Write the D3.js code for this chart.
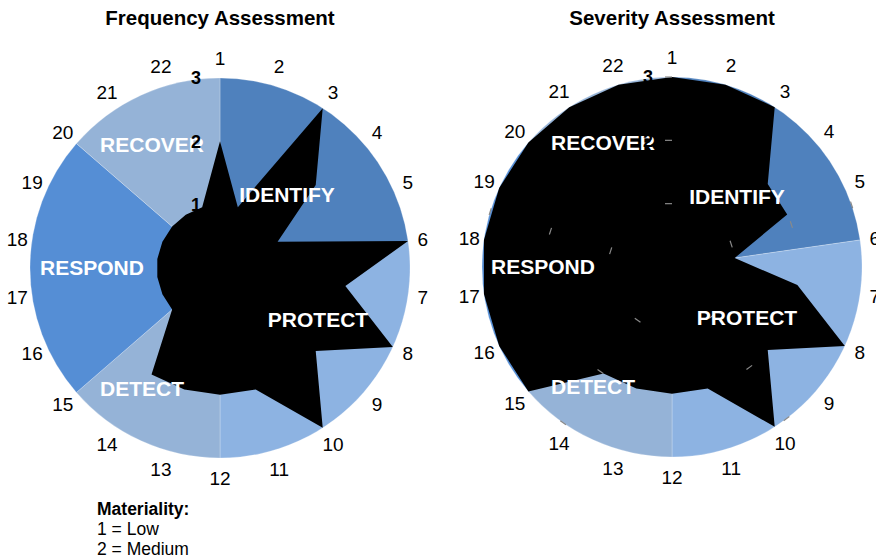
<!DOCTYPE html>
<html>
<head>
<meta charset="utf-8">
<script src="https://cdn.jsdelivr.net/npm/d3@7"></script>
<style>
  body { margin: 0; background: #fff; }
  svg { display: block; font-family: "Liberation Sans", Arial, Helvetica, sans-serif; }
</style>
</head>
<body>
<svg width="876" height="559"></svg>
<script>
// 22 controls, grouped into the five NIST functions
const axisLabels = d3.range(1, 23).map(String);
const categories = ['IDENTIFY', 'PROTECT', 'DETECT', 'RESPOND', 'RECOVER'];
const categorySpans = [5, 6, 3, 5, 3];
const categoryColors = ['#4f81bd', '#8db3e2', '#95b3d7', '#558ed5', '#95b3d7'];
const frequency = [2, 1, 3, 2, 1, 3, 2, 3, 2, 3, 2, 2, 2, 2, 1, 1, 1, 1, 1, 1, 1, 1];
const severity = [3, 3, 3, 2, 2, 1, 2, 3, 2, 3, 2, 2, 2, 2, 3, 3, 3, 3, 3, 3, 3, 3];
const levels = [1, 2, 3];
const legendTitle = 'Materiality:';
const legendLines = ['1 = Low', '2 = Medium', '3 = High'];

const svg = d3.select('svg');
const radius = 190;
const r = d3.scaleLinear().domain([0, 3]).range([0, radius]);
const angle = d3.scaleLinear().domain([0, axisLabels.length]).range([0, 2 * Math.PI]);

// where the function names sit, as [dx, dy] from the centre
const charts = [
  {title: 'Frequency Assessment', values: frequency, cx: 220, cy: 268, spokeTicks: false,
   labelOffsets: [[67, -73], [98, 52], [-78, 121], [-128, 0], [-68, -123]]},
  {title: 'Severity Assessment', values: severity, cx: 672, cy: 267, spokeTicks: true,
   labelOffsets: [[65, -70], [75, 51], [-79, 120], [-129, 0], [-69, -124]]},
];

const pie = d3.pie().sort(null).value(d => d.span);
const arc = d3.arc().innerRadius(0).outerRadius(radius);
const radar = d3.lineRadial()
  .angle((d, i) => angle(i))
  .radius(d => r(d))
  .curve(d3.curveLinearClosed);

charts.forEach(c => {
  const g = svg.append('g').attr('transform', 'translate(' + c.cx + ',' + c.cy + ')');

  g.append('text')
    .attr('x', 0).attr('y', 25 - c.cy)
    .attr('text-anchor', 'middle')
    .attr('font-size', '20.5px').attr('font-weight', 'bold')
    .text(c.title);

  const slices = pie(categories.map((name, i) => ({name, span: categorySpans[i], color: categoryColors[i]})));
  g.selectAll('path.slice').data(slices).join('path')
    .attr('class', 'slice')
    .attr('d', arc)
    .attr('fill', d => d.data.color)
    .attr('stroke', '#fff').attr('stroke-width', 0.4).attr('stroke-opacity', 0.6);

  g.append('path')
    .attr('d', radar(c.values))
    .attr('fill', '#000');

  if (c.spokeTicks) {
    const ticks = [];
    d3.range(categories.length).forEach(s => levels.forEach(l => ticks.push({a: s * 2 * Math.PI / categories.length, l})));
    g.selectAll('line.tick').data(ticks).join('line')
      .attr('class', 'tick')
      .attr('x1', d => r(d.l) * Math.sin(d.a))
      .attr('y1', d => -r(d.l) * Math.cos(d.a))
      .attr('x2', d => r(d.l) * Math.sin(d.a) - 7 * Math.cos(d.a))
      .attr('y2', d => -r(d.l) * Math.cos(d.a) - 7 * Math.sin(d.a))
      .attr('stroke', '#8a8a8a').attr('stroke-width', 1.2);
  }

  g.selectAll('text.cat').data(categories).join('text')
    .attr('class', 'cat')
    .attr('x', (d, i) => c.labelOffsets[i][0])
    .attr('y', (d, i) => c.labelOffsets[i][1])
    .attr('dy', '0.35em')
    .attr('text-anchor', 'middle')
    .attr('fill', '#fff').attr('font-size', '21px').attr('font-weight', 'bold')
    .text(d => d);

  g.selectAll('text.level').data(levels).join('text')
    .attr('class', 'level')
    .attr('x', -19)
    .attr('y', d => -r(d))
    .attr('dy', '0.35em')
    .attr('text-anchor', 'end')
    .attr('font-size', '18px').attr('font-weight', 'bold')
    .text(d => d);

  g.selectAll('text.axis').data(axisLabels).join('text')
    .attr('class', 'axis')
    .attr('x', (d, i) => (radius + 14 + 6 * Math.abs(Math.cos(angle(i)))) * Math.sin(angle(i)))
    .attr('y', (d, i) => -(radius + 14 + 6 * Math.abs(Math.cos(angle(i)))) * Math.cos(angle(i)))
    .attr('dy', '0.35em')
    .attr('text-anchor', 'middle')
    .attr('font-size', '19px')
    .text(d => d);
});

const legend = svg.append('g').attr('transform', 'translate(97, 515)');
legend.append('text').attr('font-size', '17.5px').attr('font-weight', 'bold').text(legendTitle);
legend.selectAll('text.line').data(legendLines).join('text')
  .attr('class', 'line')
  .attr('y', (d, i) => 20 + i * 20)
  .attr('font-size', '17.5px')
  .text(d => d);
</script>
</body>
</html>
